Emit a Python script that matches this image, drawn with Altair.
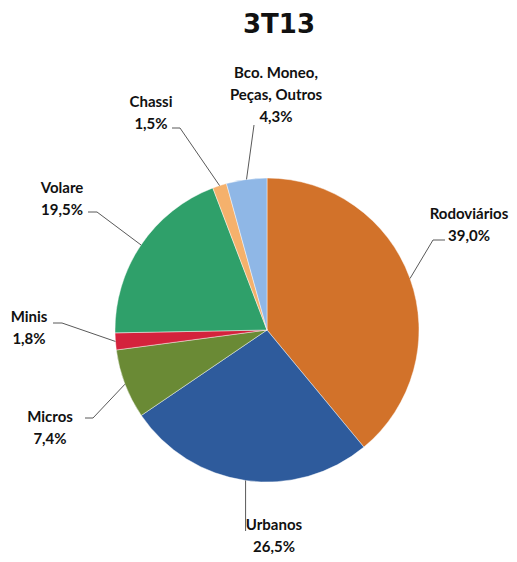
import math
import altair as alt
import pandas as pd

# ---- data ----
categories = ["Rodoviários", "Urbanos", "Micros", "Minis", "Volare", "Chassi",
              "Bco. Moneo, Peças, Outros"]
label_names = ["Rodoviários", "Urbanos", "Micros", "Minis", "Volare", "Chassi",
               "Bco. Moneo,\nPeças, Outros"]
shares = [39.0, 26.5, 7.4, 1.8, 19.5, 1.5, 4.3]
title_text = "3T13"

# ---- styling / layout ----
colors = ["#D2722A", "#2E5B9C", "#6A8A35", "#D4223C", "#2FA06A", "#F5B16C", "#8FB7E6"]
R = 152          # pie radius in px
W, H = 484, 448  # plot area
PAD = {"left": 17, "top": 98, "right": 0, "bottom": 0}

# label first-line centres (px from pie centre, y downwards)
text_pos = [(202, -116), (7, 195), (-217, 87), (-238, -13), (-205, -142),
            (-116, -228), (9, -257)]
# leader-line bend points after the pie edge point (px from pie centre)
leader_bends = [
    [(166, -90), (178, -90)],
    [(None, 201)],
    [(-174, 88), (-182, 88)],
    [(-205, -7), (-214, -7)],
    [(-170, -118), (-179, -118)],
    [(-87, -202), (-95, -202)],
    [(-13, -205)],
]

total = sum(shares)
rows, text_rows, line_rows = [], [], []
cum = 0.0
for i, (cat, name, v) in enumerate(zip(categories, label_names, shares)):
    mid = (cum + v / 2) / total * 2 * math.pi
    cum += v
    pct = f"{v:.1f}%".replace(".", ",")
    rows.append({"cat": cat, "value": v, "idx": i})
    tx, ty = text_pos[i]
    text_rows.append({"cat": cat, "x": tx, "y": ty, "label": name + "\n" + pct})
    ex, ey = R * math.sin(mid), -R * math.cos(mid)
    pts = [(ex, ey)] + [((ex if bx is None else bx), by) for bx, by in leader_bends[i]]
    for k, (px, py) in enumerate(pts):
        line_rows.append({"cat": cat, "x": px, "y": py, "k": k})

df = pd.DataFrame(rows)
tdf = pd.DataFrame(text_rows)
ldf = pd.DataFrame(line_rows)
title_df = pd.DataFrame([{"x": 12, "y": -305, "t": title_text}])

xs = alt.Scale(domain=[-W / 2, W / 2], nice=False, zero=False)
ys = alt.Scale(domain=[-H / 2, H / 2], nice=False, zero=False, reverse=True)

pie = alt.Chart(df).mark_arc(outerRadius=R, stroke="white", strokeWidth=0.8,
                             strokeOpacity=0.55).encode(
    theta=alt.Theta("value:Q", stack=True),
    order=alt.Order("idx:Q"),
    color=alt.Color("cat:N", scale=alt.Scale(domain=categories, range=colors), legend=None),
)

leaders = alt.Chart(ldf).mark_line(color="#595959", strokeWidth=1).encode(
    x=alt.X("x:Q", scale=xs, axis=None),
    y=alt.Y("y:Q", scale=ys, axis=None),
    detail="cat:N",
    order="k:Q",
)

labels = alt.Chart(tdf).mark_text(font="Lato", fontWeight="bold", fontSize=15,
                                  lineBreak="\n", lineHeight=22, align="center",
                                  baseline="middle", color="#111111").encode(
    x=alt.X("x:Q", scale=xs, axis=None),
    y=alt.Y("y:Q", scale=ys, axis=None),
    text="label:N",
)

title = alt.Chart(title_df).mark_text(font="DejaVu Sans", fontWeight="bold", fontSize=26,
                                      align="center", baseline="middle", color="#111111").encode(
    x=alt.X("x:Q", scale=xs, axis=None),
    y=alt.Y("y:Q", scale=ys, axis=None),
    text="t:N",
)

chart = alt.layer(pie, leaders, labels, title).properties(
    width=W, height=H, padding=PAD, autosize=alt.AutoSizeParams(type="none"),
    background="white",
).configure_view(stroke=None)

chart.save("out.html", embed_options={"renderer": "svg", "actions": False})
